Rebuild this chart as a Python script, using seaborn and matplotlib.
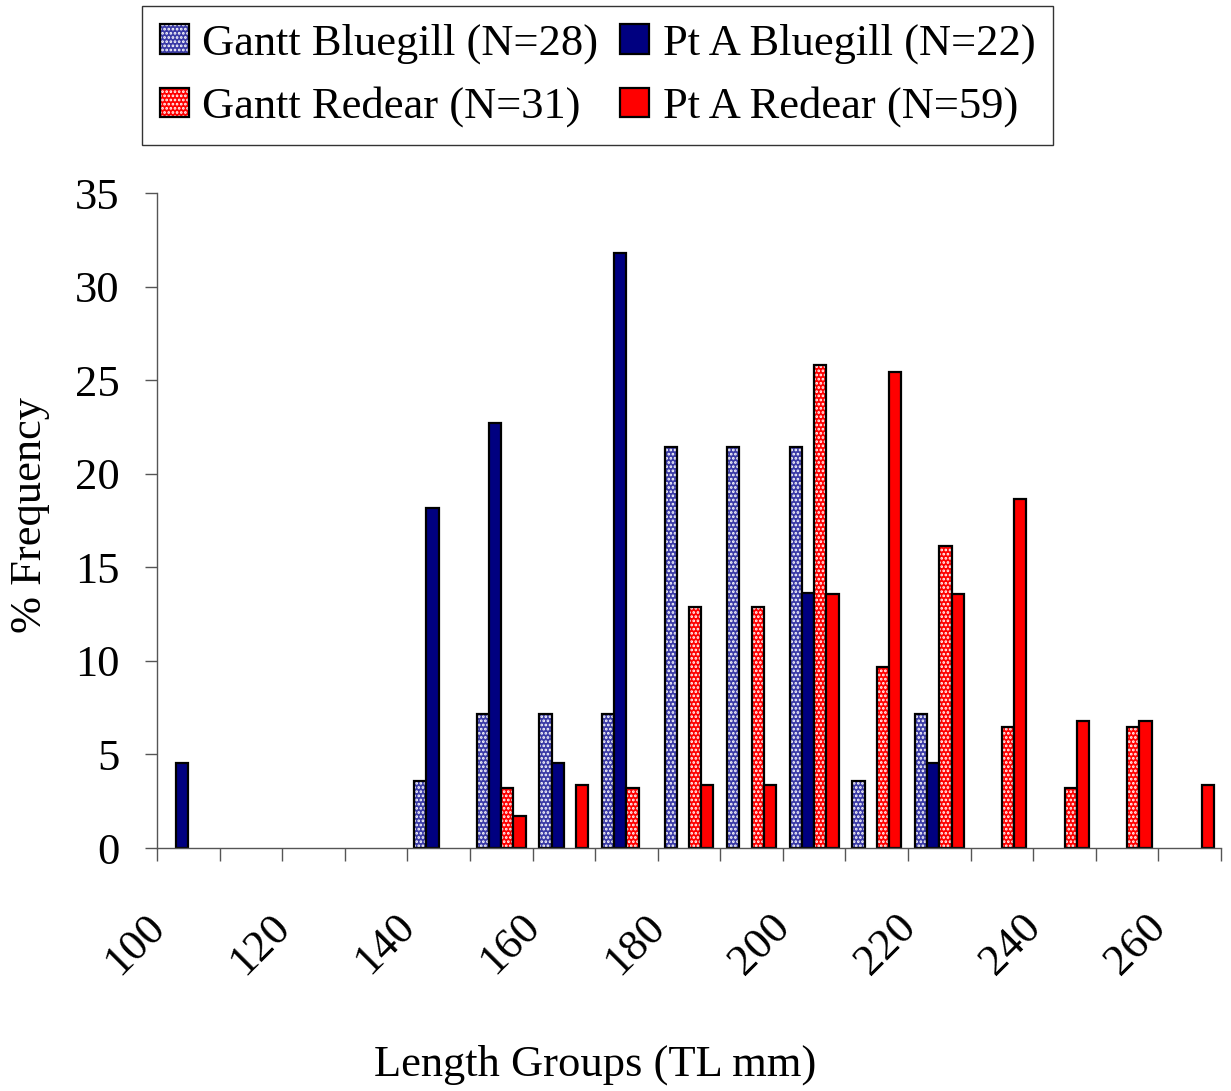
import numpy as np
import pandas as pd
import matplotlib
matplotlib.use('Agg')
import matplotlib.pyplot as plt
import matplotlib.transforms as mtransforms
import seaborn as sns

# length groups (TL mm), one bar group per 10 mm
lengths = list(range(100, 270, 10))
gantt_bluegill = [0, 0, 0, 0, 3.57, 7.14, 7.14, 7.14, 21.43, 21.43, 21.43, 3.57, 7.14, 0, 0, 0, 0]
pta_bluegill = [4.55, 0, 0, 0, 18.18, 22.73, 4.55, 31.82, 0, 0, 13.64, 0, 4.55, 0, 0, 0, 0]
gantt_redear = [0, 0, 0, 0, 0, 3.23, 0, 3.23, 12.90, 12.90, 25.81, 9.68, 16.13, 6.45, 3.23, 6.45, 0]
pta_redear = [0, 0, 0, 0, 0, 1.69, 3.39, 0, 3.39, 3.39, 13.56, 25.42, 13.56, 18.64, 6.78, 6.78, 3.39]

series = ['Gantt Bluegill (N=28)', 'Pt A Bluegill (N=22)',
          'Gantt Redear (N=31)', 'Pt A Redear (N=59)']
colors = {series[0]: '#3a3aa6', series[1]: '#000080',
          series[2]: '#ff0000', series[3]: '#ff0000'}
hatches = {series[0]: '....', series[1]: None, series[2]: '....', series[3]: None}

frames = []
for name, vals in zip(series, [gantt_bluegill, pta_bluegill, gantt_redear, pta_redear]):
    frames.append(pd.DataFrame({'Length': [str(l) for l in lengths],
                                'Frequency': vals, 'Group': name}))
df = pd.concat(frames, ignore_index=True)

sns.set_theme(style='white')
plt.rcParams['font.family'] = ['Liberation Serif', 'DejaVu Serif']
plt.rcParams['text.color'] = 'black'
plt.rcParams['hatch.linewidth'] = 1.3

fig = plt.figure(figsize=(12.31, 10.91), dpi=100)
ax = fig.add_axes([157 / 1231, 1 - 848 / 1091, (1221 - 157) / 1231, (848 - 193) / 1091])

sns.barplot(data=df, x='Length', y='Frequency', hue='Group',
            order=[str(l) for l in lengths], hue_order=series,
            palette=colors, width=0.78, edgecolor='black', linewidth=1.6,
            saturation=1, ax=ax, legend=False)

for name, cont in zip(series, ax.containers):
    for p in cont.patches:
        if p.get_height() == 0:
            p.set_visible(False)
        if hatches[name]:
            p.set_hatch(hatches[name])
            p._hatch_color = (1, 1, 1, 1)

ax.set_xlim(-0.5, len(lengths) - 0.5)
ax.set_ylim(0, 35)
ax.set_yticks(range(0, 36, 5))
ax.tick_params(axis='y', direction='out', length=9, width=1, color='#555555',
               labelsize=32, labelcolor='black', pad=18, left=True)

ax.set_xticks(range(0, len(lengths), 2))
ax.set_xticklabels([str(l) for l in lengths[::2]], rotation=45, ha='right', va='top')
ax.set_xticks(np.arange(-0.5, len(lengths), 1), minor=True)
ax.tick_params(axis='x', which='major', length=0, labelsize=32, labelcolor='black', pad=42)
ax.tick_params(axis='x', which='minor', direction='out', length=9, width=1,
               color='#555555', bottom=True)
shift = mtransforms.ScaledTranslation(-16 / 100, 0, fig.dpi_scale_trans)
for lab in ax.get_xticklabels():
    lab.set_transform(lab.get_transform() + shift)

for side in ['top', 'right']:
    ax.spines[side].set_visible(False)
for side in ['left', 'bottom']:
    ax.spines[side].set_color('#555555')
    ax.spines[side].set_linewidth(1)

ax.set_xlabel('')
ax.set_ylabel('')
fig.text(595 / 1231, 1 - 1065 / 1091, 'Length Groups (TL mm)', fontsize=32,
         ha='center', va='center', color='black')
fig.text(30 / 1231, 1 - 515 / 1091, '% Frequency', fontsize=32, rotation=90,
         ha='center', va='center', color='black')

# legend filled row-wise: two columns
handles = {name: plt.Rectangle((0, 0), 1, 1, facecolor=colors[name], edgecolor='black',
                               linewidth=1.6, hatch=hatches[name]) for name in series}
for name in series:
    if hatches[name]:
        handles[name]._hatch_color = (1, 1, 1, 1)
leg_order = [series[0], series[2], series[1], series[3]]
leg = fig.legend([handles[n] for n in leg_order], leg_order, ncol=2,
                 loc='upper left', bbox_to_anchor=(142 / 1231, 1 - 6 / 1091),
                 bbox_transform=fig.transFigure, fontsize=32, frameon=True,
                 fancybox=False, edgecolor='black', borderaxespad=0,
                 handlelength=0.65, handleheight=0.65, handletextpad=0.3,
                 columnspacing=0.5, labelspacing=0.5, borderpad=0.4)
leg.get_frame().set_linewidth(1)
for t in leg.get_texts():
    t.set_color('black')

plt.savefig('out.png', dpi=100)
